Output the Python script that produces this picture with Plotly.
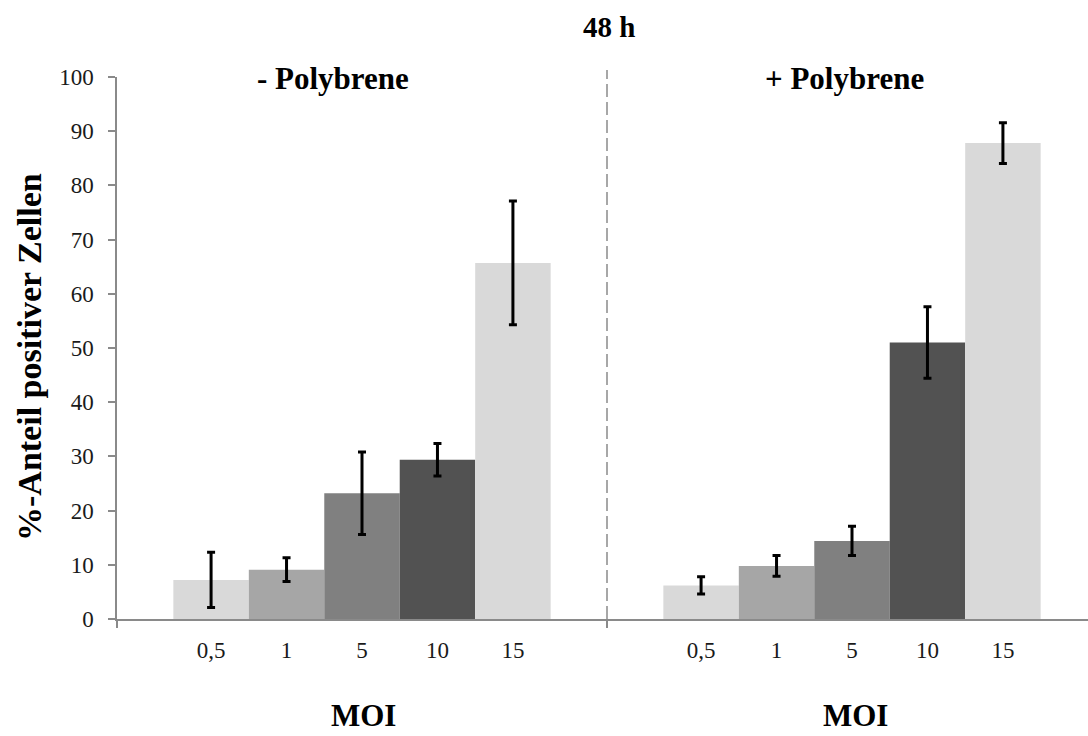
import plotly.graph_objects as go

# ---- data ----
groups = ["- Polybrene", "+ Polybrene"]
moi_labels = ["0,5", "1", "5", "10", "15"]
minus_poly = [7.2, 9.1, 23.2, 29.4, 65.7]
minus_err = [5.1, 2.2, 7.6, 3.0, 11.4]
plus_poly = [6.2, 9.8, 14.4, 51.0, 87.8]
plus_err = [1.6, 1.9, 2.7, 6.6, 3.75]
bar_colors = ["#d9d9d9", "#a6a6a6", "#808080", "#525252", "#d9d9d9"]

# ---- layout constants ----
bar_w = 0.154          # fraction of a group slot
n = len(moi_labels)
axis_gray = "#8a8a8a"

fig = go.Figure()
tickvals, ticktext = [], []
for i, lab in enumerate(moi_labels):
    off = (i - (n - 1) / 2) * bar_w
    xs = [g + off for g in range(len(groups))]
    fig.add_trace(go.Bar(
        x=xs,
        y=[minus_poly[i], plus_poly[i]],
        width=bar_w,
        marker=dict(color=bar_colors[i], line=dict(width=0)),
        error_y=dict(type="data", array=[minus_err[i], plus_err[i]],
                     color="black", thickness=3, width=4),
        showlegend=False,
        name=lab,
    ))
    tickvals += xs
    ticktext += [lab, lab]

W, H = 1088, 736
ml, mr, mt, mb = 117, 0, 77, 117
plot_w = W - ml - mr
px_per_group = 490
x0 = -0.5
x1 = x0 + plot_w / px_per_group

fig.update_layout(
    width=W, height=H,
    margin=dict(l=ml, r=mr, t=mt, b=mb),
    plot_bgcolor="white", paper_bgcolor="white",
    barmode="overlay",
    font=dict(family="Liberation Serif, Times New Roman, serif", color="black"),
    xaxis=dict(
        range=[x0, x1], tickmode="array", tickvals=tickvals, ticktext=ticktext,
        ticks="", showgrid=False, zeroline=False,
        showline=True, linecolor=axis_gray, linewidth=1.5,
        tickfont=dict(family="Liberation Serif", size=23, color="#1a1a1a"),
        ticklabelstandoff=10,
        minor=dict(tickmode="array", tickvals=[-0.5, 0.5, 1.5], ticks="outside",
                   ticklen=7, tickcolor=axis_gray, tickwidth=1.5, showgrid=False),
    ),
    yaxis=dict(
        range=[0, 100], dtick=10, tick0=0, showgrid=False, zeroline=False,
        showline=True, linecolor=axis_gray, linewidth=1.5,
        ticks="outside", ticklen=7, tickcolor=axis_gray, tickwidth=1.5,
        tickfont=dict(family="Liberation Serif", size=23, color="#1a1a1a"),
        ticklabelstandoff=10,
    ),
)

# divider between groups
fig.add_shape(type="line", xref="x", yref="paper", x0=0.5, x1=0.5, y0=0, y1=1.013,
              line=dict(color=axis_gray, width=1.5, dash="13px,5px"))

def px_x(p):
    return (p - ml) / plot_w

def px_y(p):
    return (H - mb - p) / (H - mt - mb)

def label(text, x, y, size, angle=0):
    fig.add_annotation(text=text, xref="paper", yref="paper",
                       x=px_x(x), y=px_y(y), xanchor="center", yanchor="middle",
                       showarrow=False, textangle=angle,
                       font=dict(family="Liberation Serif", size=size, color="black"))

label("<b>48 h</b>", 609, 27, 29)
label("<b>- Polybrene</b>", 333, 79, 31)
label("<b>+ Polybrene</b>", 844, 79, 31)
label("<b>MOI</b>", 363, 715, 31)
label("<b>MOI</b>", 855, 715, 31)
label("<b>%-Anteil positiver Zellen</b>", 29, 357, 34, -90)

fig.write_html("out.html")
